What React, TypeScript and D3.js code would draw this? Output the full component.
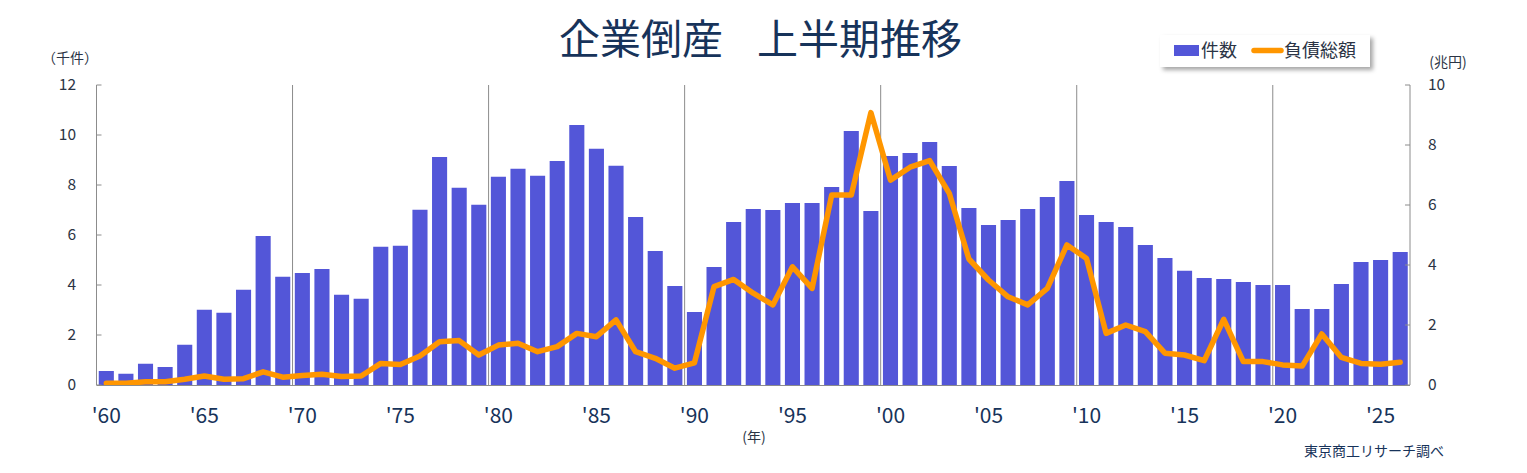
import React from "react";
import { scaleBand, scaleLinear, line, range } from "d3";

// 上半期 (Jan-Jun) bankruptcies, 1960..2026
const years = range(1960, 2027);
// 件数 (thousand cases)
const counts = [
  0.56, 0.45, 0.85, 0.72, 1.61, 3.01, 2.89, 3.81, 5.96, 4.33,
  4.48, 4.64, 3.61, 3.45, 5.53, 5.57, 7.01, 9.12, 7.89, 7.21,
  8.33, 8.65, 8.37, 8.96, 10.4, 9.45, 8.77, 6.72, 5.36, 3.96,
  2.92, 4.72, 6.52, 7.04, 7.0, 7.28, 7.28, 7.92, 10.16, 6.96,
  9.16, 9.28, 9.72, 8.76, 7.08, 6.4, 6.6, 7.04, 7.52, 8.16,
  6.8, 6.52, 6.32, 5.6, 5.08, 4.57, 4.28, 4.24, 4.12, 4.0,
  4.0, 3.04, 3.04, 4.04, 4.92, 5.0, 5.32,
];
// 負債総額 (trillion yen)
const debts = [
  0.06, 0.06, 0.11, 0.11, 0.19, 0.3, 0.19, 0.21, 0.44, 0.26,
  0.32, 0.36, 0.28, 0.3, 0.72, 0.68, 0.97, 1.44, 1.48, 1.0,
  1.33, 1.39, 1.11, 1.28, 1.72, 1.61, 2.17, 1.11, 0.89, 0.56,
  0.74, 3.28, 3.52, 3.06, 2.67, 3.94, 3.22, 6.33, 6.33, 9.08,
  6.83, 7.26, 7.48, 6.39, 4.2, 3.5, 2.94, 2.67, 3.22, 4.67,
  4.22, 1.72, 2.0, 1.78, 1.06, 1.0, 0.81, 2.19, 0.78, 0.78,
  0.67, 0.63, 1.7, 0.92, 0.72, 0.69, 0.76,
];
const leftTicks = [0, 2, 4, 6, 8, 10, 12];
const rightTicks = [0, 2, 4, 6, 8, 10];
const labelYears = [1960, 1965, 1970, 1975, 1980, 1985, 1990, 1995, 2000, 2005, 2010, 2015, 2020, 2025];
const gridYears = [1970, 1980, 1990, 2000, 2010, 2020];

const W = 1527;
const H = 473;
const left = 96.5;
const right = 1410;
const top = 85;
const bottom = 385;

const barColor = "#5356d8";
const lineColor = "#ff9600";
const navy = "#17335a";
const tickColor = "#2b3445";
const axisColor = "#8c8c8c";
const font = "'Noto Sans CJK JP', 'Noto Sans', sans-serif";

export default function App() {
  const x = scaleBand<number>().domain(years).range([left, right]).paddingInner(0.23).paddingOuter(0.115);
  const yL = scaleLinear().domain([0, 12]).range([bottom, top]);
  const yR = scaleLinear().domain([0, 10]).range([bottom, top]);
  const half = (x.step() - x.bandwidth()) / 2;
  const cx = (yr: number) => (x(yr) as number) + x.bandwidth() / 2;

  const path = line<number>()
    .x((_, i) => cx(years[i]))
    .y((d) => yR(d))(debts);

  return (
    <svg width={W} height={H} style={{ position: "absolute", left: 0, top: 0, background: "#fff" }} fontFamily={font}>
      <defs>
        <filter id="shadow" x="-10%" y="-30%" width="130%" height="180%">
          <feDropShadow dx="3" dy="3" stdDeviation="2" floodColor="#000" floodOpacity="0.35" />
        </filter>
      </defs>
      <rect width={W} height={H} fill="#fff" />

      <text y={54} fontSize={41} fill={navy}>
        <tspan x={723} textAnchor="end">企業倒産</tspan>
        <tspan x={757} textAnchor="start">上半期推移</tspan>
      </text>

      {/* gridlines */}
      {gridYears.map((yr) => (
        <line key={yr} x1={(x(yr) as number) - half} x2={(x(yr) as number) - half} y1={top} y2={bottom} stroke={axisColor} strokeWidth={1} />
      ))}

      {/* bars */}
      {counts.map((v, i) => (
        <rect key={years[i]} x={x(years[i])} y={yL(v)} width={x.bandwidth()} height={bottom - yL(v)} fill={barColor} />
      ))}

      <path d={path || ""} fill="none" stroke={lineColor} strokeWidth={5.5} strokeLinejoin="round" strokeLinecap="round" />

      {/* axes */}
      <line x1={left} x2={left} y1={top} y2={bottom} stroke={axisColor} />
      <line x1={right} x2={right} y1={top} y2={bottom} stroke={axisColor} />
      <line x1={left} x2={right} y1={bottom + 0.5} y2={bottom + 0.5} stroke={axisColor} />

      {leftTicks.map((t) => (
        <g key={"l" + t}>
          <line x1={left} x2={left + 5} y1={yL(t)} y2={yL(t)} stroke={axisColor} />
          <text x={76} y={yL(t)} dy="0.35em" textAnchor="end" fontSize={15.5} fill={tickColor}>
            {t}
          </text>
        </g>
      ))}
      {rightTicks.map((t) => (
        <g key={"r" + t}>
          <line x1={right - 5} x2={right} y1={yR(t)} y2={yR(t)} stroke={axisColor} />
          <text x={1428} y={yR(t)} dy="0.35em" textAnchor="start" fontSize={15.5} fill={tickColor}>
            {t}
          </text>
        </g>
      ))}

      <text x={70} y={58} dy="0.35em" textAnchor="middle" fontSize={14} fill={tickColor}>（千件）</text>
      <text x={1448} y={62} dy="0.35em" textAnchor="middle" fontSize={14} fill={tickColor}>(兆円)</text>

      {labelYears.map((yr) => (
        <text key={yr} x={cx(yr)} y={423} textAnchor="middle" fontSize={21} fill={navy}>
          {"'" + String(yr).slice(2)}
        </text>
      ))}

      <text x={754} y={437} dy="0.35em" textAnchor="middle" fontSize={14} fill={tickColor}>(年)</text>
      <text x={1444} y={451} dy="0.35em" textAnchor="end" fontSize={14} fill={navy}>東京商工リサーチ調べ</text>

      {/* legend */}
      <rect x={1160} y={35} width={210} height={32} fill="#fff" filter="url(#shadow)" />
      <rect x={1174} y={45} width={25} height={11} fill={barColor} />
      <text x={1201} y={51} dy="0.35em" fontSize={18} fill={tickColor}>件数</text>
      <line x1={1254} x2={1281} y1={50.5} y2={50.5} stroke={lineColor} strokeWidth={5.5} strokeLinecap="round" />
      <text x={1284} y={51} dy="0.35em" fontSize={18} fill={tickColor}>負債総額</text>
    </svg>
  );
}
